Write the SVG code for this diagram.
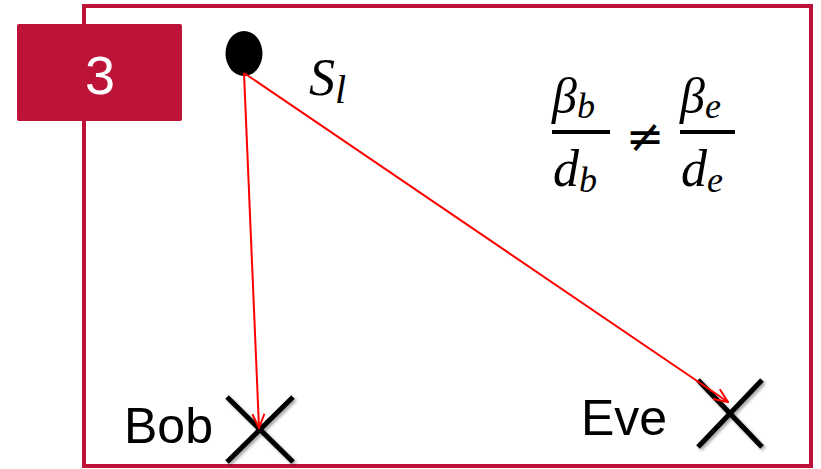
<svg xmlns="http://www.w3.org/2000/svg" width="821" height="469" viewBox="0 0 821 469">
<style>
.frame{fill:none;stroke:#BE1338;stroke-width:4}
.lbl{fill:#BE1338}
.num{font-family:"Liberation Sans",Arial,sans-serif;font-size:54px;fill:#fff;text-anchor:middle}
.name{font-family:"Liberation Sans",Arial,sans-serif;font-size:50px;fill:#000}
.math{font-family:"Liberation Serif","DejaVu Serif",serif;font-style:italic;fill:#000}
.xm{stroke:#000;stroke-width:5;fill:none;filter:url(#sh)}
.conn{stroke:#FF0000;stroke-width:2;fill:none;marker-end:url(#arr)}
</style>
<defs>
<marker id="arr" viewBox="0 0 16 16" refX="15" refY="8" markerWidth="16" markerHeight="16" markerUnits="userSpaceOnUse" orient="auto">
<path d="M1,2 L15,8 L1,14" fill="none" stroke="#FF0000" stroke-width="2"/>
</marker>
<filter id="sh" x="-20%" y="-20%" width="150%" height="150%">
<feGaussianBlur in="SourceAlpha" stdDeviation="1.5"/>
<feOffset dx="2" dy="2" result="b"/>
<feComponentTransfer><feFuncA type="linear" slope="0.35"/></feComponentTransfer>
<feMerge><feMergeNode/><feMergeNode in="SourceGraphic"/></feMerge>
</filter>
</defs>
<rect class="frame" x="84" y="6" width="727" height="460"/>
<g id="label3">
<rect class="lbl" x="17" y="24" width="165" height="97" rx="2"/>
<text class="num" x="100" y="94">3</text>
</g>
<g id="source">
<ellipse cx="244" cy="53.5" rx="18.5" ry="22.5" fill="#000"/>
<text class="math" x="309" y="95" font-size="52">S<tspan font-size="40" dy="8">l</tspan></text>
</g>
<g id="formula">
<text class="math" x="552" y="113" font-size="50">β<tspan font-size="36" dy="5">b</tspan></text>
<line x1="552" y1="132" x2="610" y2="132" stroke="#000" stroke-width="4"/>
<text class="math" x="553" y="186" font-size="52">d<tspan font-size="36" dy="6">b</tspan></text>
<text x="645" y="152" font-family="DejaVu Sans,sans-serif" font-size="46" text-anchor="middle">≠</text>
<text class="math" x="680" y="113" font-size="50">β<tspan font-size="36" dy="5">e</tspan></text>
<line x1="680" y1="132" x2="735" y2="132" stroke="#000" stroke-width="4"/>
<text class="math" x="681" y="186" font-size="52">d<tspan font-size="36" dy="6">e</tspan></text>
</g>
<g id="bob">
<path class="xm" d="M227,397 L293,462 M293,397 L227,462"/>
<text class="name" x="124" y="443">Bob</text>
</g>
<g id="eve">
<path class="xm" d="M698,380 L762,447 M762,380 L698,447"/>
<text class="name" x="581" y="435">Eve</text>
</g>
<g id="connectors">
<line class="conn" x1="244" y1="73" x2="259" y2="428"/>
<line class="conn" x1="244" y1="73" x2="728" y2="402"/>
</g>
</svg>
